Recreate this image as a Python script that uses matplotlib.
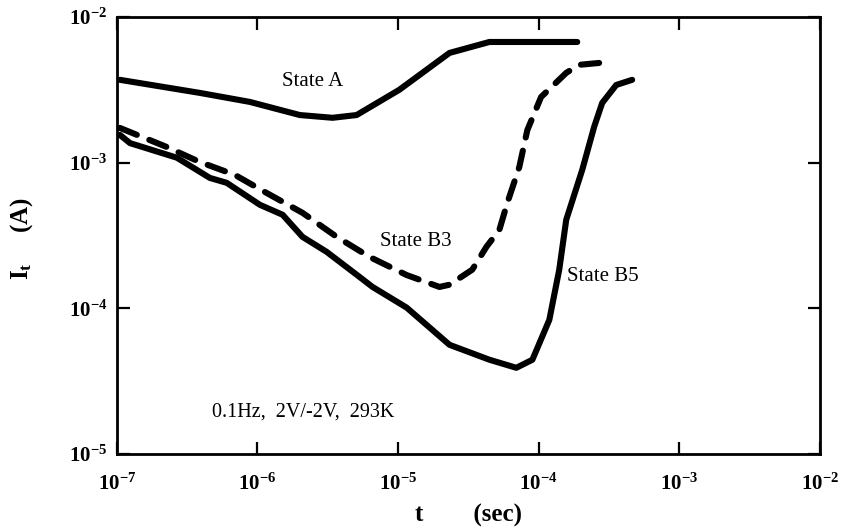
import numpy as np
import matplotlib
matplotlib.use("Agg")
import matplotlib.pyplot as plt
from matplotlib.ticker import FixedLocator, FixedFormatter, NullLocator

# ── DATA ─────────────────────────────────────────────────────────────────────
t_A = [1.05e-7, 3.88e-7, 8.81e-7, 2.00e-6, 3.42e-6, 5.07e-6, 1.02e-5,
       2.32e-5, 4.46e-5, 1.88e-4]
I_A = [3.70e-3, 3.01e-3, 2.61e-3, 2.12e-3, 2.03e-3, 2.12e-3, 3.16e-3,
       5.66e-3, 6.73e-3, 6.73e-3]

t_B3 = [1.05e-7, 2.26e-7, 3.88e-7, 6.89e-7, 1.16e-6, 2.09e-6, 3.66e-6,
        6.27e-6, 1.15e-5, 1.97e-5, 2.32e-5, 3.37e-5, 4.25e-5, 5.25e-5,
        5.98e-5, 7.28e-5, 8.30e-5, 1.04e-4, 1.57e-4, 1.94e-4, 2.69e-4]
I_B3 = [1.73e-3, 1.28e-3, 1.01e-3, 8.24e-4, 6.19e-4, 4.52e-4, 3.09e-4,
        2.25e-4, 1.69e-4, 1.40e-4, 1.45e-4, 1.84e-4, 2.64e-4, 3.45e-4,
        5.28e-4, 9.33e-4, 1.67e-3, 2.82e-3, 4.13e-3, 4.69e-3, 4.83e-3]

t_B5 = [1.05e-7, 1.24e-7, 2.67e-7, 4.58e-7, 6.04e-7, 1.04e-6, 1.51e-6,
        2.09e-6, 3.10e-6, 5.32e-6, 6.58e-6, 1.15e-5, 2.32e-5, 4.46e-5,
        6.93e-5, 9.02e-5, 1.19e-4, 1.40e-4, 1.57e-4, 2.04e-4, 2.48e-4,
        2.83e-4, 3.56e-4, 4.62e-4]
I_B5 = [1.55e-3, 1.36e-3, 1.08e-3, 7.85e-4, 7.26e-4, 5.13e-4, 4.38e-4,
        3.09e-4, 2.44e-4, 1.64e-4, 1.40e-4, 1.01e-4, 5.61e-5, 4.43e-5,
        3.90e-5, 4.43e-5, 8.32e-5, 1.84e-4, 4.05e-4, 8.91e-4, 1.76e-3,
        2.57e-3, 3.41e-3, 3.70e-3]

x_ticks = [1e-7, 1e-6, 1e-5, 1e-4, 1e-3, 1e-2]
x_labels = ["-7", "-6", "-5", "-4", "-3", "-2"]
y_ticks = [1e-5, 1e-4, 1e-3, 1e-2]
y_labels = ["-5", "-4", "-3", "-2"]

# ── STYLE ────────────────────────────────────────────────────────────────────
plt.rcParams["font.family"] = ["Liberation Serif", "DejaVu Serif"]
plt.rcParams["mathtext.fontset"] = "custom"
plt.rcParams["mathtext.rm"] = "Liberation Serif"
plt.rcParams["mathtext.bf"] = "Liberation Serif:bold"
plt.rcParams["mathtext.it"] = "Liberation Serif:italic"

LW = 4.4

fig = plt.figure(figsize=(8.47, 5.29), dpi=100)
ax = fig.add_axes([0.138, 0.142, 0.830, 0.826])

ax.plot(t_A, I_A, color="black", lw=LW, solid_capstyle="round",
        solid_joinstyle="round")
ax.plot(t_B3, I_B3, color="black", lw=LW, linestyle=(0, (3.0, 2.2)),
        dash_capstyle="round", dash_joinstyle="round")
ax.plot(t_B5, I_B5, color="black", lw=LW, solid_capstyle="round",
        solid_joinstyle="round")

ax.set_xscale("log")
ax.set_yscale("log")
ax.set_xlim(1e-7, 1e-2)
ax.set_ylim(1e-5, 1e-2)

ax.xaxis.set_major_locator(FixedLocator(x_ticks))
ax.xaxis.set_major_formatter(FixedFormatter(
    [r"$\mathbf{10^{%s}}$" % s for s in x_labels]))
ax.yaxis.set_major_locator(FixedLocator(y_ticks))
ax.yaxis.set_major_formatter(FixedFormatter(
    [r"$\mathbf{10^{%s}}$" % s for s in y_labels]))
ax.xaxis.set_minor_locator(NullLocator())
ax.yaxis.set_minor_locator(NullLocator())

ax.tick_params(which="major", direction="in", length=9, width=1.6,
               top=True, right=True, labelsize=15)
ax.tick_params(axis="x", pad=14)
ax.tick_params(axis="y", pad=7)
for spine in ax.spines.values():
    spine.set_linewidth(2.0)

# labels on curves
ax.text(1.49e-6, 3.58e-3, "State A", fontsize=15, ha="left", va="center")
ax.text(7.38e-6, 2.86e-4, "State B3", fontsize=15, ha="left", va="center")
ax.text(1.60e-4, 1.64e-4, "State B5", fontsize=15, ha="left", va="center")
ax.text(4.73e-7, 1.95e-5, "0.1Hz,  2V/-2V,  293K", fontsize=14.5,
        ha="left", va="center")

ax.set_xlabel("t        (sec)", fontsize=18, fontweight="bold", labelpad=-1)
ax.xaxis.set_label_coords(0.5, -0.115)
fig.text(0.026, 0.55, r"$\mathbf{I_{t}}$     $\mathbf{(A)}$", fontsize=18,
         rotation=90, ha="center", va="center")

plt.savefig("out.png", dpi=100)
